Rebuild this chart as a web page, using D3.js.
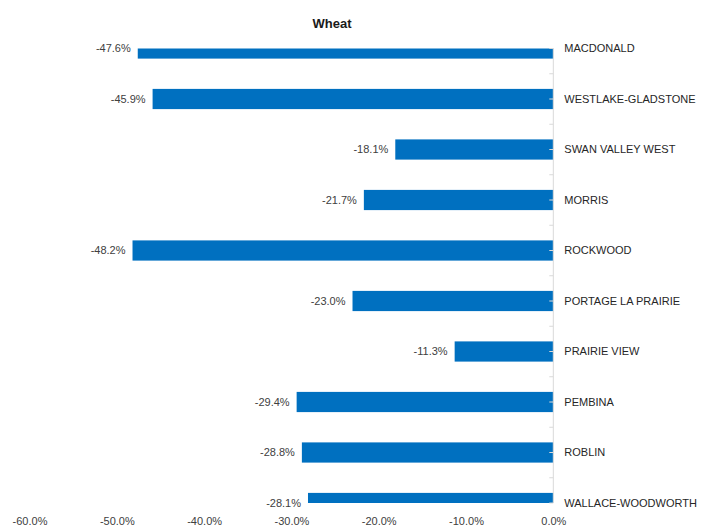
<!DOCTYPE html>
<html>
<head>
<meta charset="utf-8">
<script src="https://cdn.jsdelivr.net/npm/d3@7"></script>
<style>
  html, body { margin: 0; padding: 0; background: #fff; }
  svg { display: block; }
  text { font-family: "Liberation Sans", Arial, sans-serif; }
</style>
</head>
<body>
<svg id="chart" width="701" height="529"></svg>
<script>
const title = "Wheat";
const categories = ["MACDONALD", "WESTLAKE-GLADSTONE", "SWAN VALLEY WEST", "MORRIS", "ROCKWOOD",
  "PORTAGE LA PRAIRIE", "PRAIRIE VIEW", "PEMBINA", "ROBLIN", "WALLACE-WOODWORTH"];
const values = [-47.6, -45.9, -18.1, -21.7, -48.2, -23.0, -11.3, -29.4, -28.8, -28.1];
const xTicks = [-60, -50, -40, -30, -20, -10, 0];

const svg = d3.select("#chart");
const x = d3.scaleLinear().domain([-60, 0]).range([29.5, 553.3]);
const y = d3.scaleBand().domain(categories).range([23.25, 528.25]).paddingInner(0.6).paddingOuter(0.3);
const yTop = y(categories[0]) + y.bandwidth() / 2;
const yBot = y(categories[categories.length - 1]) + y.bandwidth() / 2;

svg.append("defs").append("clipPath").attr("id", "plotclip")
  .append("rect").attr("x", 0).attr("y", yTop).attr("width", 701).attr("height", yBot - yTop);

// title
svg.append("text").attr("x", 332).attr("y", 28).attr("text-anchor", "middle")
  .attr("font-size", 13).attr("font-weight", "bold").attr("fill", "#1a1a1a").text(title);

// bars
svg.append("g").attr("clip-path", "url(#plotclip)")
  .selectAll("rect").data(categories).join("rect")
  .attr("x", (d, i) => x(values[i]))
  .attr("y", d => y(d))
  .attr("width", (d, i) => x(0) - x(values[i]))
  .attr("height", y.bandwidth())
  .attr("fill", "#0070C0");

// vertical axis line + ticks
const ax = svg.append("g");
ax.append("line").attr("x1", x(0)).attr("x2", x(0)).attr("y1", yTop).attr("y2", yBot)
  .attr("stroke", "#d9d9d9").attr("stroke-width", 1);
const half = y.step() / 2;
const tickYs = d3.range(0, (categories.length - 1) * 2 + 1).map(k => yTop + k * half);
ax.selectAll("line.tk").data(tickYs).join("line").attr("class", "tk")
  .attr("x1", x(0) - 4).attr("x2", x(0)).attr("y1", d => d).attr("y2", d => d)
  .attr("stroke", "#d9d9d9");

// category labels
svg.append("g").selectAll("text").data(categories).join("text")
  .attr("x", x(0) + 11)
  .attr("y", d => y(d) + y.bandwidth() / 2)
  .attr("dy", "0.35em")
  .attr("font-size", 11).attr("fill", "#262626")
  .text(d => d);

// value labels
svg.append("g").selectAll("text").data(categories).join("text")
  .attr("x", (d, i) => x(values[i]) - 7)
  .attr("y", d => y(d) + y.bandwidth() / 2)
  .attr("dy", "0.35em")
  .attr("text-anchor", "end")
  .attr("font-size", 11).attr("fill", "#404040")
  .text((d, i) => values[i].toFixed(1) + "%");

// bottom axis labels
const xAxis = d3.axisBottom(x).tickValues(xTicks).tickSize(0).tickFormat(d => d.toFixed(1) + "%");
const gx = svg.append("g").attr("transform", "translate(0,514)").call(xAxis);
gx.select(".domain").remove();
gx.selectAll("text").attr("font-size", 11).attr("fill", "#404040")
  .attr("font-family", "'Liberation Sans', Arial, sans-serif");
</script>
</body>
</html>
